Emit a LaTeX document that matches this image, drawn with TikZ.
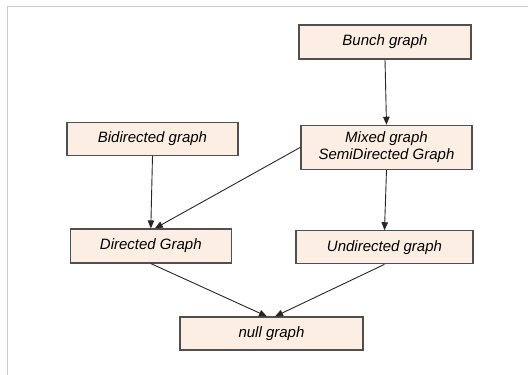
\documentclass[tikz,border=0pt]{standalone}
\usepackage{fontspec}
\setmainfont{Liberation Sans}
\usetikzlibrary{arrows.meta,calc}
\definecolor{boxfill}{HTML}{FDEEE3}
\definecolor{boxline}{HTML}{505050}
\definecolor{frameline}{HTML}{CCCCCC}
\begin{document}
\begin{tikzpicture}[x=1pt,y=-1pt,
  gbox/.style={draw=boxline,fill=boxfill,line width=1.1pt,inner sep=0pt,
    font=\fontsize{15}{17}\selectfont\itshape,align=center},
  conn/.style={draw=black!85,line width=0.9pt,-{Triangle[length=8pt,width=6.5pt]}}]
\useasboundingbox (0,0) rectangle (528,375);
\draw[frameline,line width=1pt] (7,375) -- (7,6) -- (528,6);
\node[gbox,minimum width=172pt,minimum height=34pt] (bunch) at (385,42) {Bunch graph};
\node[gbox,minimum width=171pt,minimum height=33pt] (bidir) at (152.5,138.8) {Bidirected graph};
\node[gbox,minimum width=171pt,minimum height=44pt] (mixed) at (386.5,147.3) {Mixed graph\\SemiDirected Graph};
\node[gbox,minimum width=161pt,minimum height=34pt] (dir) at (150.8,246) {Directed Graph};
\node[gbox,minimum width=177pt,minimum height=33pt] (undir) at (384.5,247.3) {Undirected graph};
\node[gbox,minimum width=183pt,minimum height=33pt] (null) at (271.5,333.5) {null graph};
\draw[conn] (bunch.south) -- (mixed.north);
\draw[conn] (bidir.south) -- (dir.north);
\draw[conn] (mixed.west) -- ([xshift=4pt]dir.north);
\draw[conn] (mixed.south) -- (undir.north);
\draw[conn] (dir.south) -- ([xshift=-4.5pt]null.north);
\draw[conn] (undir.south) -- ([xshift=3.5pt]null.north);
\end{tikzpicture}
\end{document}
